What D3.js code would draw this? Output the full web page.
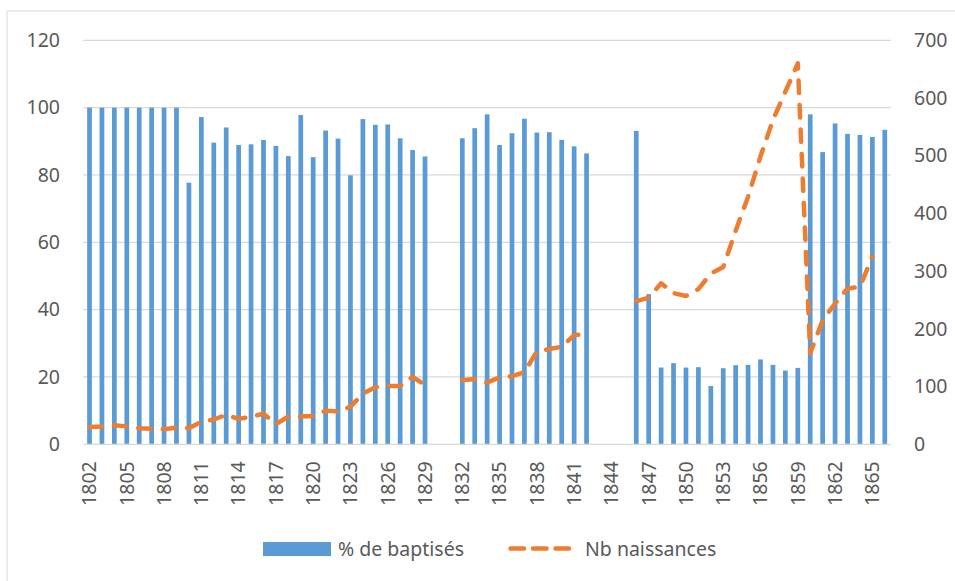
<!DOCTYPE html>
<html>
<head>
<meta charset="utf-8">
<script src="https://cdn.jsdelivr.net/npm/d3@7"></script>
<style>
  html, body { margin: 0; padding: 0; background: #fff; }
  svg { display: block; }
  text { font-family: "Noto Sans", "Open Sans", sans-serif; fill: #595959; }
</style>
</head>
<body>
<svg id="chart" width="955" height="581"></svg>
<script>
const years = [1802,1803,1804,1805,1806,1807,1808,1809,1810,1811,1812,1813,1814,1815,1816,1817,1818,1819,1820,1821,1822,1823,1824,1825,1826,1827,1828,1829,1830,1831,1832,1833,1834,1835,1836,1837,1838,1839,1840,1841,1842,1843,1844,1845,1846,1847,1848,1849,1850,1851,1852,1853,1854,1855,1856,1857,1858,1859,1860,1861,1862,1863,1864,1865,1866];

const pctBaptises = [100,100,100,100,100,100,100,100,77.7,97.2,89.6,94.1,88.9,89.1,90.4,88.6,85.6,97.8,85.3,93.2,90.8,79.9,96.6,94.9,95.0,90.9,87.4,85.5,null,null,90.9,93.9,98.0,88.9,92.4,96.7,92.6,92.7,90.4,88.5,86.4,null,null,null,93.1,44.6,22.8,24.1,22.8,22.9,17.3,22.6,23.5,23.6,25.2,23.6,21.9,22.7,98.0,86.8,95.3,92.2,91.9,91.3,93.4];

const nbNaissances = [30,31,33,31,28,27,26,29,28,39,43,51,44,48,53,35,48,48,49,58,57,65,88,99,101,101,117,103,null,null,111,113,107,116,118,125,161,165,169,189,191,null,null,null,248,254,279,262,257,269,296,307,370,429,499,562,611,660,158,215,244,270,273,325,null];

const leftTicks = [0,20,40,60,80,100,120];
const rightTicks = [0,100,200,300,400,500,600,700];
const xTickLabels = [1802,1805,1808,1811,1814,1817,1820,1823,1826,1829,1832,1835,1838,1841,1844,1847,1850,1853,1856,1859,1862,1865];

const seriesNames = ["% de baptisés", "Nb naissances"];

const svg = d3.select("#chart");
const W = 955, H = 581;
const plot = {left: 83.3, right: 891, top: 40.3, bottom: 444.3};
const FONT = '"Noto Sans", "Open Sans", sans-serif';

// outer border
svg.append("rect").attr("x", 7).attr("y", 11).attr("width", W).attr("height", H)
  .attr("fill", "none").attr("stroke", "#D9D9D9").attr("stroke-width", 1);

const x = d3.scaleBand().domain(years).range([plot.left, plot.right])
  .paddingInner(0.62).paddingOuter(0.31);
const yL = d3.scaleLinear().domain([0, 120]).range([plot.bottom, plot.top]);
const yR = d3.scaleLinear().domain([0, 700]).range([plot.bottom, plot.top]);

// gridlines
svg.append("g").selectAll("line").data(leftTicks.filter(d => d > 0)).join("line")
  .attr("x1", plot.left).attr("x2", plot.right)
  .attr("y1", d => yL(d)).attr("y2", d => yL(d))
  .attr("stroke", "#D9D9D9").attr("stroke-width", 1.3);

// left axis labels
const leftAxis = d3.axisLeft(yL).tickValues(leftTicks).tickSize(0).tickPadding(0);
const gL = svg.append("g").attr("transform", "translate(60,0)").call(leftAxis);
gL.select(".domain").remove();
gL.selectAll("text").style("font-size", "19.5px").attr("fill", "#595959").style("font-family", FONT);

// right axis labels
const rightAxis = d3.axisRight(yR).tickValues(rightTicks).tickSize(0).tickPadding(0);
const gR = svg.append("g").attr("transform", "translate(914,0)").call(rightAxis);
gR.select(".domain").remove();
gR.selectAll("text").style("font-size", "19.5px").attr("fill", "#595959").style("font-family", FONT);

// bars
const barData = years.map((yr, i) => ({yr, v: pctBaptises[i]})).filter(d => d.v !== null);
svg.append("g").selectAll("rect").data(barData).join("rect")
  .attr("x", d => x(d.yr)).attr("width", x.bandwidth())
  .attr("y", d => yL(d.v)).attr("height", d => yL(0) - yL(d.v))
  .attr("fill", "#5B9BD5");

// x axis line
svg.append("line").attr("x1", plot.left).attr("x2", plot.right)
  .attr("y1", plot.bottom).attr("y2", plot.bottom)
  .attr("stroke", "#D9D9D9").attr("stroke-width", 1.3);

// x axis labels
const bottomAxis = d3.axisBottom(x).tickValues(xTickLabels).tickSize(0).tickPadding(0);
const gB = svg.append("g").attr("transform", `translate(0,${plot.bottom})`).call(bottomAxis);
gB.select(".domain").remove();
gB.selectAll("text")
  .style("font-size", "19.5px").attr("fill", "#595959").style("font-family", FONT)
  .attr("text-anchor", "end")
  .attr("transform", "translate(0,17) rotate(-90)")
  .attr("x", 0).attr("y", 0).attr("dy", "0.35em");

// line
const lineData = years.map((yr, i) => ({yr, v: nbNaissances[i]}));
const line = d3.line()
  .defined(d => d.v !== null)
  .x(d => x(d.yr) + x.bandwidth() / 2)
  .y(d => yR(d.v));
svg.append("path").datum(lineData).attr("d", line)
  .attr("fill", "none").attr("stroke", "#ED7D31").attr("stroke-width", 4.5)
  .attr("stroke-dasharray", "12.5,12").attr("stroke-linecap", "round")
  .attr("stroke-linejoin", "round");

// legend
const lg = svg.append("g");
lg.append("rect").attr("x", 263).attr("y", 542).attr("width", 68).attr("height", 14).attr("fill", "#5B9BD5");
lg.append("text").attr("x", 338).attr("y", 555.5).style("font-size", "19.5px").style("font-family", FONT).text(seriesNames[0]);
lg.append("line").attr("x1", 510.5).attr("x2", 570).attr("y1", 548.5).attr("y2", 548.5)
  .attr("stroke", "#ED7D31").attr("stroke-width", 4.5)
  .attr("stroke-dasharray", "13.5,9").attr("stroke-linecap", "round");
lg.append("text").attr("x", 585).attr("y", 555.5).style("font-size", "19.5px").style("font-family", FONT).text(seriesNames[1]);
</script>
</body>
</html>
